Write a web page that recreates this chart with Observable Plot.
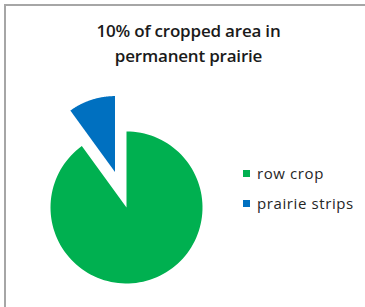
<!DOCTYPE html>
<html>
<head>
<meta charset="utf-8">
<script src="https://cdn.jsdelivr.net/npm/d3@7"></script>
<script src="https://cdn.jsdelivr.net/npm/@observablehq/plot@0.6"></script>
<style>
  html, body { margin: 0; padding: 0; background: #fff; }
  #wrap { position: relative; width: 365px; height: 307px; overflow: hidden; background: #fff; font-family: "Open Sans", sans-serif; }
  #btop { position: absolute; left: 4px; top: 4px; width: 361px; height: 0; border-top: 2px solid #a6a6a6; }
  #bleft { position: absolute; left: 4px; top: 4px; width: 0; height: 303px; border-left: 2px solid #a6a6a6; }
  #title { position: absolute; left: 6px; width: 365px; top: 18px; text-align: center; font-size: 17px; line-height: 25px; color: #1a1a1a; font-weight: 600; letter-spacing: -0.2px; }
  #chart { position: absolute; left: 0; top: 0; }
  .leg { position: absolute; left: 243px; font-size: 15px; color: #262626; white-space: nowrap; }
  .leg span.sw { position: absolute; left: 0; width: 7px; height: 7px; }
  .leg span.lbl { position: absolute; left: 14px; line-height: 18px; letter-spacing: 0.6px; }
</style>
</head>
<body>
<div id="wrap">
  <div id="chart"></div>
  <div id="btop"></div>
  <div id="bleft"></div>
  <div id="title"></div>
  <div id="legend"></div>
</div>
<script>
const titleLines = ["10% of cropped area in", "permanent prairie"];
const categories = ["row crop", "prairie strips"];
const values = [90, 10];
const colors = ["#00B050", "#0070C0"];
const explodeFrac = [0, 0.49];

document.getElementById("title").innerHTML = titleLines.join("<br>");

const arcs = d3.pie().sort(null).value(d => d)(values);
const points = [];
arcs.forEach((a, i) => {
  const mid = (a.startAngle + a.endAngle) / 2;
  const ox = explodeFrac[i] * Math.sin(mid);
  const oy = explodeFrac[i] * Math.cos(mid);
  const cat = categories[i];
  points.push({cat, x: ox, y: oy});
  const n = 120;
  for (let k = 0; k <= n; k++) {
    const t = a.startAngle + (a.endAngle - a.startAngle) * k / n;
    points.push({cat, x: ox + Math.sin(t), y: oy + Math.cos(t)});
  }
  points.push({cat, x: ox, y: oy});
});

const chart = Plot.plot({
  width: 365,
  height: 307,
  margin: 0,
  x: {domain: [-1, 1], range: [50, 202], axis: null},
  y: {domain: [-1, 1], range: [283, 131], axis: null},
  color: {domain: categories, range: colors},
  marks: categories.map((c, i) =>
    Plot.line(points.filter(p => p.cat === c), {x: "x", y: "y", fill: colors[i], stroke: "none", curve: "linear"})
  )
});
document.getElementById("chart").appendChild(chart);

const legend = document.getElementById("legend");
const legTops = [164, 194];
categories.forEach((c, i) => {
  const d = document.createElement("div");
  d.className = "leg";
  d.style.top = legTops[i] + "px";
  d.innerHTML = `<span class="sw" style="background:${colors[i]};top:6px"></span><span class="lbl">${c}</span>`;
  legend.appendChild(d);
});
</script>
</body>
</html>
